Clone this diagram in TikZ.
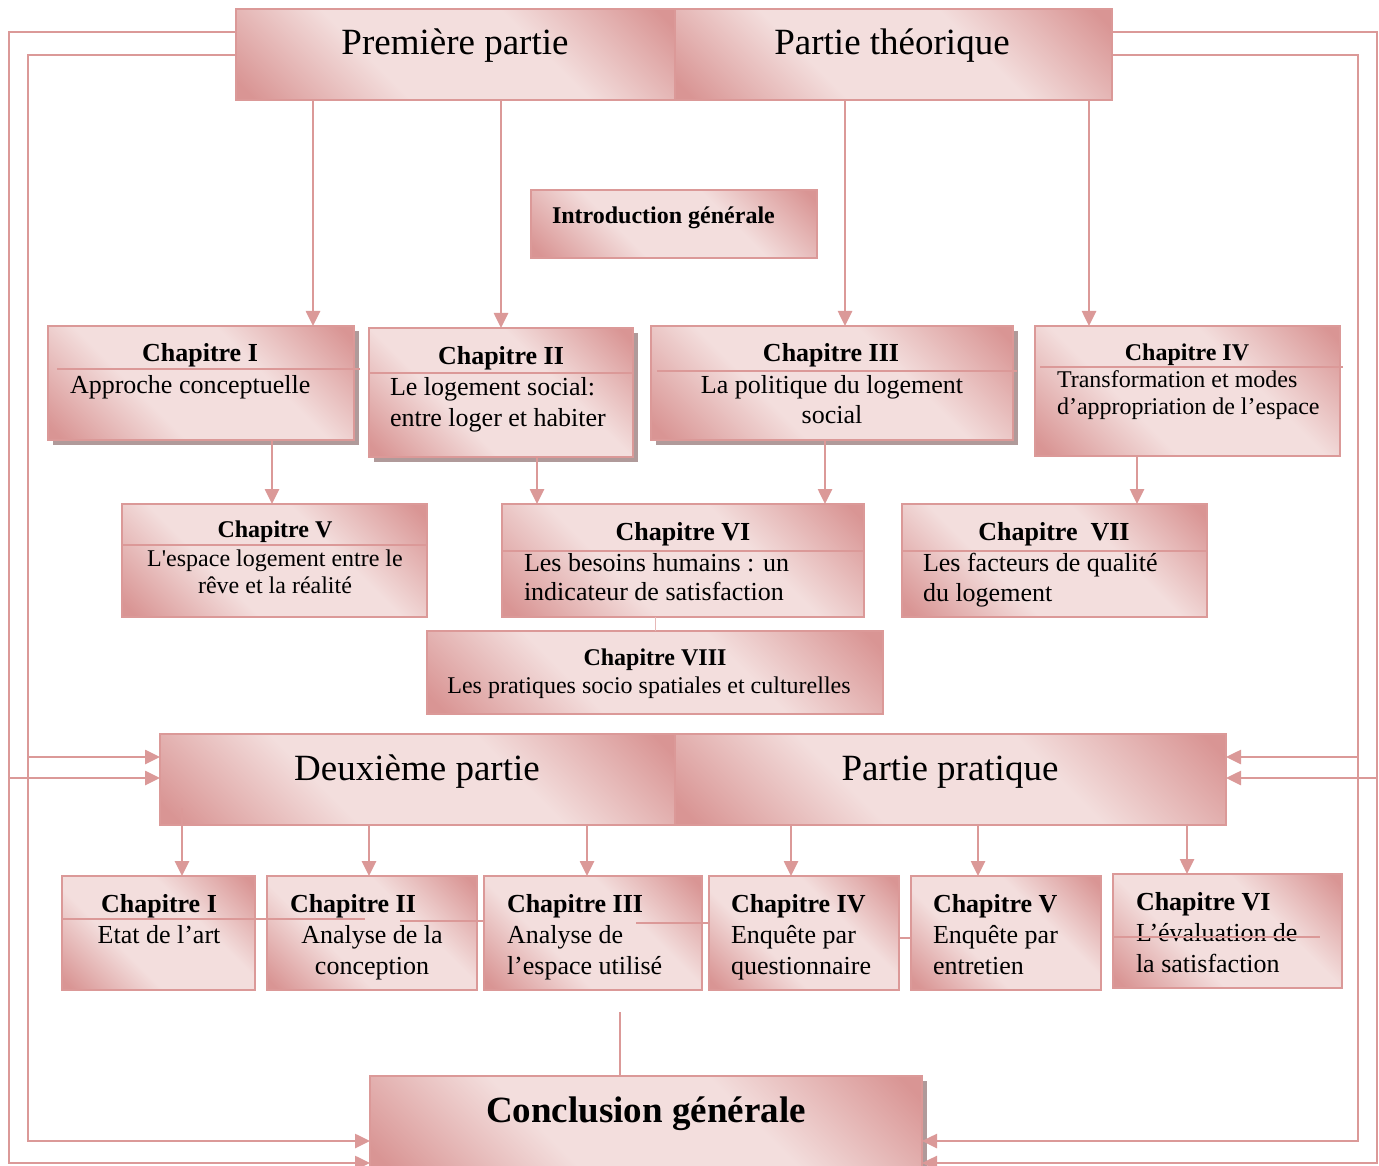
\documentclass[tikz,border=0pt]{standalone}
\usepackage{fontspec}
\setmainfont{Liberation Serif}
\usetikzlibrary{arrows.meta,shadows}

\definecolor{rdark}{HTML}{D99594}
\definecolor{rlight}{HTML}{F3DEDD}
\definecolor{rline}{HTML}{DB9998}
\definecolor{rshadow}{HTML}{B09A9A}

% diagonal rose gradient: dark corners, wide light band in the middle
\pgfdeclareverticalshading{rosy}{100bp}{color(0bp)=(rdark); color(17bp)=(rdark);
  color(38bp)=(rlight); color(62bp)=(rlight); color(83bp)=(rdark); color(100bp)=(rdark)}

\newcommand\fsz[1]{\fontsize{#1}{#1}\selectfont}

% rose gradient box given by its two corners (x1,y1) and (x2,y2)
\newcommand\rosebox[6][]{%
  \pgfmathsetmacro\rbW{#5-#3}\pgfmathsetmacro\rbH{#6-#4}%
  \node[rbox, minimum width=\rbW pt, minimum height=\rbH pt, #1] (#2) at (#3,#4) {};}

\tikzset{
  rbox/.style={draw=rline, line width=2pt, shading=rosy, shading angle=-45,
    inner sep=0pt, outer sep=0pt, anchor=north west},
  shad/.style={drop shadow={shadow xshift=5pt, shadow yshift=-5pt,
    fill=rshadow, opacity=1}},
  txt/.style={inner sep=0pt, outer sep=0pt, text=black, anchor=base},
  txtl/.style={txt, anchor=base west},
  link/.style={draw=rline, line width=2.6pt},
  arr/.style={link, -{Triangle[length=15pt,width=14pt]}},
  sep/.style={draw=rline, line width=2pt},
}

\begin{document}
\begin{tikzpicture}[x=1pt, y=-1pt]
\useasboundingbox (0,0) rectangle (1379,1166);

% ---------- first part header ----------
\rosebox{p1}{236}{9}{675}{100}
\rosebox{p2}{675}{9}{1112}{100}
\node[txt] (p1t) at (455,55) {\fsz{37}Première partie};
\node[txt] (p2t) at (892,55) {\fsz{37}Partie théorique};

\rosebox{intro}{531}{190}{817}{258}
\node[txtl] (introt) at (552,224) {\fsz{24}\bfseries Introduction générale};

% ---------- theoretical chapters, first row ----------
\rosebox[shad]{c1}{48}{326}{354}{440}
\rosebox[shad]{c2}{369}{328}{633}{457}
\rosebox[shad]{c3}{651}{326}{1013}{440}
\rosebox{c4}{1035}{326}{1340}{456}

\draw[sep] (57,369) -- (360,369);
\draw[sep] (369,373) -- (633,373);
\draw[sep] (657,371) -- (1017,371);
\draw[sep] (1040,367) -- (1343,367);

\node[txt]  (c1h) at (200,362) {\fsz{26}\bfseries Chapitre I};
\node[txtl] (c1a) at (70,393)  {\fsz{26}Approche conceptuelle};

\node[txt]  (c2h) at (501,364) {\fsz{26}\bfseries Chapitre II};
\node[txtl] (c2a) at (390,395) {\fsz{26}Le logement social:};
\node[txtl] (c2b) at (390,426) {\fsz{26}entre loger et habiter};

\node[txt] (c3h) at (831,362) {\fsz{26}\bfseries Chapitre III};
\node[txt] (c3a) at (832,393) {\fsz{26}La politique du logement};
\node[txt] (c3b) at (832,423) {\fsz{26}social};

\node[txt]  (c4h) at (1187,360) {\fsz{24}\bfseries Chapitre IV};
\node[txtl] (c4a) at (1057,387) {\fsz{24}Transformation et modes};
\node[txtl] (c4b) at (1057,414) {\fsz{24}d’appropriation de l’espace};

% ---------- theoretical chapters, second and third rows ----------
\rosebox{c5}{122}{504}{427}{617}
\rosebox{c6}{502}{504}{864}{617}
\rosebox{c7}{902}{504}{1207}{617}
\rosebox{c8}{427}{631}{883}{714}

\draw[sep] (122,545) -- (427,545);
\draw[sep] (502,551) -- (864,551);
\draw[sep] (902,551) -- (1207,551);

\node[txt] (c5h) at (275,537) {\fsz{24}\bfseries Chapitre V};
\node[txt] (c5a) at (275,566) {\fsz{24}L\textquotesingle espace logement entre le};
\node[txt] (c5b) at (275,593) {\fsz{24}rêve et la réalité};

\node[txt]  (c6h) at (683,540) {\fsz{26}\bfseries Chapitre VI};
\node[txtl] (c6a) at (524,571) {\fsz{26}Les besoins humains : un};
\node[txtl] (c6b) at (524,600) {\fsz{26}indicateur de satisfaction};

\node[txt]  (c7h) at (1054,540) {\fsz{26}\bfseries Chapitre\ \ VII};
\node[txtl] (c7a) at (923,571)  {\fsz{26}Les facteurs de qualité};
\node[txtl] (c7b) at (923,601)  {\fsz{26}du logement};

\node[txt] (c8h) at (655,665) {\fsz{24}\bfseries Chapitre VIII};
\node[txt] (c8a) at (649,693) {\fsz{24}Les pratiques socio spatiales et culturelles};

% ---------- second part header ----------
\rosebox{d1}{160}{734}{675}{825}
\rosebox{d2}{675}{734}{1226}{825}
\node[txt] (d1t) at (417,780) {\fsz{37}Deuxième partie};
\node[txt] (d2t) at (950,780) {\fsz{37}Partie pratique};

% ---------- practical chapters ----------
\rosebox{b1}{62}{876}{255}{990}
\rosebox{b2}{267}{876}{477}{990}
\rosebox{b3}{484}{876}{702}{990}
\rosebox{b4}{709}{876}{899}{990}
\rosebox{b5}{911}{876}{1101}{990}
\rosebox{b6}{1113}{874}{1342}{988}

\node[txt] (b1h) at (159,912) {\fsz{26}\bfseries Chapitre I};
\node[txt] (b1a) at (159,943) {\fsz{26}Etat de l’art};

\node[txtl] (b2h) at (290,912) {\fsz{26}\bfseries Chapitre II};
\node[txt]  (b2a) at (372,943) {\fsz{26}Analyse de la};
\node[txt]  (b2b) at (372,974) {\fsz{26}conception};

\node[txtl] (b3h) at (507,912) {\fsz{26}\bfseries Chapitre III};
\node[txtl] (b3a) at (507,943) {\fsz{26}Analyse de};
\node[txtl] (b3b) at (507,974) {\fsz{26}l’espace utilisé};

\node[txtl] (b4h) at (731,912) {\fsz{26}\bfseries Chapitre IV};
\node[txtl] (b4a) at (731,943) {\fsz{26}Enquête par};
\node[txtl] (b4b) at (731,974) {\fsz{26}questionnaire};

\node[txtl] (b5h) at (933,912) {\fsz{26}\bfseries Chapitre V};
\node[txtl] (b5a) at (933,943) {\fsz{26}Enquête par};
\node[txtl] (b5b) at (933,974) {\fsz{26}entretien};

\node[txtl] (b6h) at (1136,910) {\fsz{26}\bfseries Chapitre VI};
\node[txtl] (b6a) at (1136,941) {\fsz{26}L’évaluation de};
\node[txtl] (b6b) at (1136,972) {\fsz{26}la satisfaction};

% separator strokes running across the practical chapters
\draw[sep] (62,919) -- (365,919);
\draw[sep] (400,921) -- (484,921);
\draw[sep] (636,923) -- (709,923);
\draw[sep] (899,938) -- (911,938);
\draw[sep] (1113,937) -- (1320,937);

% ---------- conclusion ----------
\rosebox[shad]{concl}{370}{1076}{922}{1172}
\node[txt] (conclt) at (646,1122) {\fsz{37}\bfseries Conclusion générale};

% ---------- connectors ----------
\coordinate (ax1) at (313,0);  \coordinate (ax2) at (501,0);
\coordinate (ax3) at (845,0);  \coordinate (ax4) at (1089,0);
\draw[arr] (p1.south -| ax1) -- (c1.north -| ax1);
\draw[arr] (p1.south -| ax2) -- (c2.north -| ax2);
\draw[arr] (p2.south -| ax3) -- (c3.north -| ax3);
\draw[arr] (p2.south -| ax4) -- (c4.north -| ax4);

\coordinate (bx1) at (272,0);  \coordinate (bx2) at (537,0);
\coordinate (bx3) at (825,0);  \coordinate (bx4) at (1137,0);
\draw[arr] (c1.south -| bx1) -- (c5.north -| bx1);
\draw[arr] (c2.south -| bx2) -- (c6.north -| bx2);
\draw[arr] (c3.south -| bx3) -- (c6.north -| bx3);
\draw[arr] (c4.south -| bx4) -- (c7.north -| bx4);

\coordinate (vx) at (655,0);
\draw[draw=rline!70, line width=1pt] (c6.south -| vx) -- (c8.north -| vx);

\coordinate (dx1) at (182,0);  \coordinate (dx2) at (369,0);
\coordinate (dx3) at (587,0);  \coordinate (dx4) at (791,0);
\coordinate (dx5) at (978,0);  \coordinate (dx6) at (1187,0);
\draw[arr] ([yshift=17pt]d1.south -| dx1) -- (b1.north -| dx1);
\draw[arr] (d1.south -| dx2) -- (b2.north -| dx2);
\draw[arr] (d1.south -| dx3) -- (b3.north -| dx3);
\draw[arr] (d2.south -| dx4) -- (b4.north -| dx4);
\draw[arr] (d2.south -| dx5) -- (b5.north -| dx5);
\draw[arr] (d2.south -| dx6) -- (b6.north -| dx6);

\coordinate (cin) at (620,1012);
\draw[link] (cin) -- (concl.north -| cin);

% frame lines from the first part down to the second part and conclusion
\coordinate (yo) at (0,32);    \coordinate (yi) at (0,55);
\coordinate (ymi) at (0,757);  \coordinate (ymo) at (0,778);
\coordinate (ybi) at (0,1141); \coordinate (ybo) at (0,1163);
\coordinate (xlo) at (9,0);    \coordinate (xli) at (28,0);
\coordinate (xro) at (1377,0); \coordinate (xri) at (1358,0);

\draw[arr] (p1.west |- yo) -| (xlo |- ybo) -- (concl.west |- ybo);
\draw[arr] (p1.west |- yi) -| (xli |- ybi) -- (concl.west |- ybi);
\draw[arr] (xlo |- ymo) -- (d1.west |- ymo);
\draw[arr] (xli |- ymi) -- (d1.west |- ymi);

\draw[arr] (p2.east |- yo) -| (xro |- ybo) -- (concl.east |- ybo);
\draw[arr] (p2.east |- yi) -| (xri |- ybi) -- (concl.east |- ybi);
\draw[arr] (xro |- ymo) -- (d2.east |- ymo);
\draw[arr] (xri |- ymi) -- (d2.east |- ymi);
\end{tikzpicture}
\end{document}
